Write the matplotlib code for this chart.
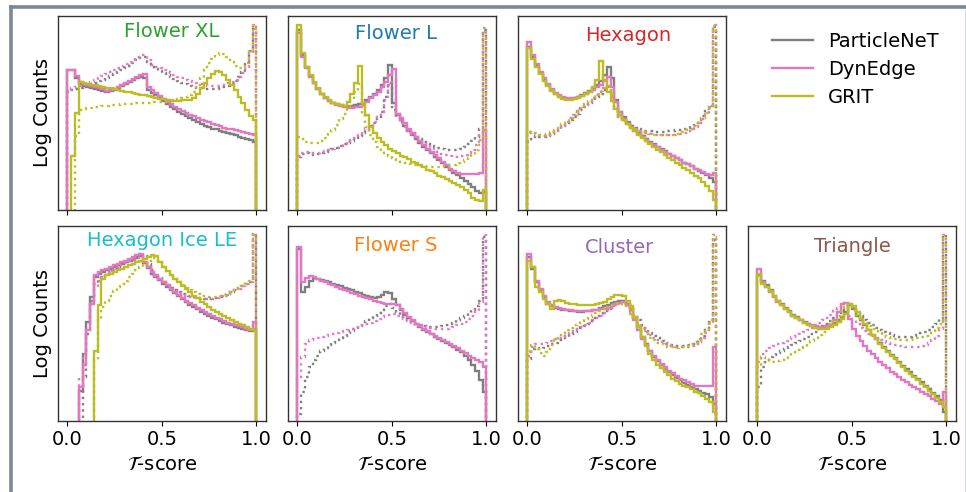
import numpy as np
import matplotlib
matplotlib.use("Agg")
import matplotlib.pyplot as plt
from matplotlib.lines import Line2D
from matplotlib.ticker import NullLocator

# ---------------- binning ----------------
edges = np.linspace(0.0, 1.0, 51)

# log-counts per bin (20 units per decade, 0 = empty bin)
# suffix _0 -> first class (solid), _1 -> second class (dotted)

# Flower XL
fxl_pn_0 = [72, 72, 68, 65, 64, 63.5, 63, 62.5, 62, 61.5,
            61, 61.5, 62, 63, 64, 65, 66, 67, 68, 68.5,
            68, 62, 60.5, 59, 57.5, 56, 54.5, 53, 52, 50.5,
            49.5, 48.5, 47.5, 46.5, 45.5, 44.5, 43.5, 43, 42, 41.5,
            40.5, 40, 39.5, 39, 38.5, 37.5, 37, 36.5, 36, 35]
fxl_de_0 = [72, 72, 69, 66, 65, 64.5, 64, 63.5, 63, 62.5,
            61.5, 62, 62.5, 63.5, 64.5, 65.5, 66.5, 67.5, 68.5, 69.5,
            70, 63.5, 62, 60.5, 58.7, 57, 55.7, 54.5, 53.2, 52,
            51, 50, 49, 48.2, 47.3, 46.5, 45.8, 45.1, 44.4, 43.7,
            43.2, 42.5, 42, 41.5, 41, 40.5, 40, 39.5, 39, 38.6]
fxl_gr_0 = [0, 28, 50, 66, 65.5, 65, 64.6, 64.2, 63.8, 63.4,
            63, 62.6, 62.2, 61.8, 61.4, 61, 60.6, 60.2, 59.8, 59.4,
            59, 58.6, 58.2, 57.8, 57.4, 57, 56.7, 56.5, 56.4, 56.4,
            56.5, 56.6, 56.8, 57.5, 60, 62.6, 65.2, 67.8, 70, 71.5,
            71.2, 69.5, 66.9, 64.3, 61.7, 58.3, 54.9, 51.5, 48.4, 46.3]
fxl_pn_1 = [61, 62, 62.5, 63, 63.5, 64, 64.8, 65.6, 66.4, 67.2,
            68, 69, 70, 71, 72, 73, 74, 75.5, 77, 78.5,
            79, 76, 73.5, 72.5, 71.5, 70.5, 69.5, 68.5, 67.5, 66.5,
            65.5, 64.7, 64, 63.4, 63, 62.6, 62.4, 62.3, 62.3, 62.5,
            62.8, 63.3, 64, 65, 66.5, 68.5, 71, 75, 82, 93]
fxl_de_1 = [62, 63, 63.5, 64, 64.5, 65, 66, 67, 68, 69,
            70, 71, 72, 73, 74, 75, 76, 77, 78.5, 80,
            80, 77.2, 74.6, 73.8, 72.9, 72, 71.2, 70.3, 69.5, 68.6,
            67.8, 66.9, 66.4, 65.7, 65.2, 64.7, 64.3, 64, 63.8, 63.8,
            63.8, 64.3, 65.2, 66, 66.9, 68.3, 70.3, 73.8, 80.6, 95.2]
fxl_gr_1 = [0, 0, 38, 51.5, 52, 52.3, 52.6, 52.9, 53.2, 53.5,
            53.7, 53.9, 54.1, 54.3, 54.5, 54.6, 54.7, 54.8, 54.9, 55,
            55.1, 55.2, 55.3, 55.4, 55.5, 55.7, 56, 56.3, 56.7, 57.1,
            57.5, 58.2, 59.2, 60.9, 64.3, 67.8, 72, 75.5, 78, 79.8,
            80.6, 80.1, 78.6, 76.3, 74.3, 72.9, 72.9, 75.5, 82.3, 95.2]

# Flower L
fl_pn_0 = [92.6, 79.8, 73.8, 69, 65.5, 62.1, 59.5, 57.8, 56.3, 55.2,
           54.4, 53.9, 53.5, 53.5, 53.5, 53.9, 54.4, 55.2, 56.6, 58,
           59.7, 61.7, 64.3, 67.8, 74.6, 54.9, 48.9, 46.3, 43.2, 40.8,
           38.6, 36.4, 34.3, 32.6, 30.9, 29.2, 27.4, 25.7, 24, 22.3,
           20.6, 19.2, 18, 16.6, 15.1, 13.4, 11.7, 9.9, 8.6, 9.4]
fl_de_0 = [90.9, 78.9, 72.9, 68.6, 65.2, 62.1, 59.5, 57.6, 56.1, 54.9,
           54, 53.5, 53.2, 52.8, 52.8, 53, 53.3, 54.2, 55.7, 57.5,
           59.2, 60.9, 63.5, 66, 69.5, 72.6, 49.7, 47.2, 44.6, 42,
           39.8, 37.7, 35.7, 33.4, 31.7, 30, 28.3, 26.6, 24.9, 23.2,
           21.4, 20.2, 19.2, 18.5, 18.5, 18.5, 18.5, 18.5, 19.2, 41.2]
fl_gr_0 = [95.2, 80.6, 73.8, 69.5, 66, 62.6, 60, 58.3, 56.6, 55.2,
           54.5, 54, 53.5, 55.7, 60, 65.2, 74.3, 54.9, 48.9, 42.9,
           39.5, 36.9, 35.2, 33.4, 31.7, 30.4, 29.2, 28.1, 27.1, 26.1,
           25, 24, 23, 22, 20.9, 19.9, 18.9, 17.8, 16.8, 16,
           15.1, 14.1, 12.9, 11.7, 10.3, 8.6, 6.5, 5.1, 4.6, 10.3]
fl_pn_1 = [27.4, 28.8, 29.2, 28.8, 28.6, 29, 29.5, 30, 30.7, 31.4,
           32.1, 32.9, 33.8, 34.8, 35.8, 37, 38.4, 39.8, 41.3, 43.1,
           44.9, 47.3, 50.6, 58.3, 65.2, 51.5, 48, 45.5, 43.2, 41.2,
           39.5, 37.7, 36.4, 35.2, 34.1, 33.1, 32.4, 31.9, 31.4, 31,
           30.9, 30.9, 31.2, 31.7, 32.6, 34, 35.7, 37.7, 42, 92.6]
fl_de_1 = [27.8, 29.5, 29.8, 29.5, 29.2, 29.5, 29.8, 30.4, 30.9, 31.6,
           32.2, 33.1, 34, 35, 36, 37.2, 38.6, 40, 41.5, 43.2,
           45.1, 47.7, 50.6, 56.6, 64.3, 66.9, 49.7, 45.5, 42.9, 40.8,
           39.1, 37.4, 36, 34.6, 33.3, 32.1, 30.9, 29.8, 29, 28.3,
           27.8, 27.4, 27.4, 27.8, 28.5, 29.5, 31.2, 33.4, 39.5, 93.5]
fl_gr_1 = [37.7, 36.4, 35.3, 34.6, 34.3, 34.6, 35.7, 37.2, 39.1, 41.2,
           43.7, 46.7, 49.7, 53.2, 56.9, 60.9, 64.8, 49.7, 42.9, 38.6,
           35.2, 32.6, 30.9, 29.2, 27.8, 26.6, 25.7, 24.9, 24.4, 23.8,
           23.3, 23, 22.6, 22.5, 22.3, 22.3, 22.3, 22.3, 22.5, 22.6,
           23, 23.3, 24, 24.7, 25.6, 26.6, 28.3, 30.9, 36, 91.8]

# Hexagon
hx_pn_0 = [84, 78.6, 74.1, 70.3, 66.9, 64.2, 61.7, 59.9, 58.5, 57.6,
           57.3, 57.3, 57.6, 58.3, 59.2, 60.2, 61.4, 62.8, 64.3, 66.4,
           69.5, 73.8, 67.8, 56.6, 50.6, 47.7, 45.5, 43.4, 41.5, 39.8,
           38.3, 36.7, 35.3, 34, 32.6, 31.4, 30.2, 29, 27.8, 26.6,
           25.6, 24.5, 23.5, 22.5, 21.4, 20.2, 19.2, 18, 16.3, 14.6]
hx_de_0 = [86.6, 79.8, 75.1, 71.2, 67.8, 64.8, 62.4, 60.4, 59, 58.1,
           57.6, 57.5, 57.6, 58.1, 58.8, 59.7, 60.7, 61.9, 63.1, 64.5,
           66.4, 68.3, 63.1, 55.7, 50.3, 47, 44.3, 42.4, 40.7, 39.1,
           37.6, 36.2, 34.8, 33.6, 32.4, 31.2, 30, 28.8, 27.6, 26.6,
           25.6, 24.5, 23.5, 22.5, 21.4, 20.4, 19.4, 18.7, 18.2, 18.9]
hx_gr_0 = [83.2, 78, 73.8, 70, 66.6, 63.8, 61.4, 59.5, 58, 57.1,
           56.8, 56.8, 57.1, 57.8, 58.7, 59.7, 60.9, 63.1, 66.9, 76.7,
           66.9, 61, 56, 52, 49, 46.5, 44.3, 42.3, 40.5, 38.8,
           37.2, 35.6, 34.1, 32.6, 31.1, 29.7, 28.3, 27, 25.7, 24.4,
           23.1, 21.8, 20.5, 19.2, 17.8, 16.3, 14.6, 12.6, 9.9, 5.1]
hx_pn_1 = [35.2, 37.7, 38.1, 37.7, 37.7, 38.3, 39.1, 40.3, 41.7, 43.2,
           44.8, 46.3, 48, 49.7, 51.5, 53.2, 54.9, 56.6, 58.3, 60,
           61.7, 63.1, 60, 53.2, 48.9, 46.3, 44.6, 43.2, 42.2, 41.5,
           41, 40.7, 40.5, 40.3, 40.3, 40.3, 40.3, 40.5, 40.7, 41,
           41.3, 41.9, 42.5, 43.4, 44.6, 46.3, 48.5, 51.1, 53.5, 94.3]
hx_de_1 = [38.6, 40.3, 39.5, 38.6, 38.3, 38.6, 39.5, 40.7, 42, 43.7,
           45.5, 47.2, 48.9, 50.6, 52.3, 54, 55.7, 57.5, 59.2, 60.9,
           62.6, 64.3, 58.3, 51.5, 48, 46, 44.3, 42.9, 41.7, 40.8,
           40.1, 39.6, 39.3, 38.9, 38.8, 38.6, 38.6, 38.6, 38.8, 38.9,
           39.3, 39.8, 40.7, 41.7, 42.9, 44.6, 46.8, 49.7, 53.2, 95.2]
hx_gr_1 = [40.3, 39.8, 39.1, 38.6, 38.6, 39.1, 40, 41.2, 42.5, 44.1,
           45.8, 47.5, 49.2, 50.9, 52.7, 54.4, 56.1, 57.8, 59.5, 61.2,
           62.8, 63.8, 59.2, 52.3, 48.4, 46, 44.1, 42.7, 41.5, 40.7,
           40, 39.5, 39.1, 38.8, 38.6, 38.6, 38.6, 38.8, 38.9, 39.3,
           39.6, 40.1, 41, 42, 43.2, 44.9, 47.2, 50.1, 53.5, 94.7]

# Hexagon Ice LE
hil_pn_0 = [0, 0, 0, 15.4, 34.3, 50.6, 63.5, 73.8, 75.5, 76.3,
            77.2, 78, 78.9, 79.8, 80.6, 81.5, 82.3, 83.2, 84, 84.9,
            80.8, 78.2, 75.5, 73.8, 72.1, 70.4, 68.7, 67, 65.4, 63.9,
            62.3, 60.9, 59.6, 58.4, 57.2, 56, 54.9, 53.9, 52.9, 52,
            51.2, 50.3, 49.6, 48.9, 48.3, 47.6, 47.1, 46.5, 46, 47.2]
hil_de_0 = [0, 0, 0, 17.2, 28.3, 46.3, 60, 74.6, 76.3, 77.2,
            78, 78.9, 79.8, 80.6, 81.5, 82.3, 83.2, 84, 84.9, 85.8,
            81.5, 78.9, 76.3, 74.6, 72.9, 71.2, 69.5, 67.8, 66.2, 64.7,
            63.1, 61.7, 60.4, 59.2, 58, 56.8, 55.7, 54.7, 53.7, 52.8,
            52, 51.1, 50.4, 49.7, 49.1, 48.4, 47.9, 47.3, 46.8, 50.6]
hil_gr_0 = [0, 0, 0, 0, 0, 0, 0, 36, 59.2, 72.9,
            74.6, 75.5, 76.3, 77.2, 78, 78.9, 79.8, 80.6, 81.5, 82.3,
            83.2, 84, 85.1, 84.4, 81.5, 78.9, 76.8, 74.8, 72.9, 71,
            69.3, 67.6, 65.9, 64.3, 62.8, 61.2, 59.9, 58.5, 57.1, 55.9,
            54.7, 53.7, 52.7, 51.6, 50.6, 49.7, 48.9, 48, 47.2, 46.3]
hil_pn_1 = [0, 0, 0, 0, 22.3, 44.6, 61.7, 70.3, 72.9, 74.3,
            75.5, 76.7, 77.9, 78.9, 79.9, 81, 82, 82.8, 83.7, 84.4,
            84.7, 80.6, 77.5, 75.1, 73.1, 71.2, 69.6, 68.3, 67.1, 66,
            65.2, 64.5, 63.8, 63.3, 62.9, 62.8, 62.6, 62.6, 62.8, 63.1,
            63.6, 64.3, 65.2, 66.2, 67.2, 68.3, 69.3, 70.3, 71.5, 96]
hil_de_1 = [0, 0, 0, 22.3, 34.3, 46.3, 60, 68.6, 72, 73.8,
            75.1, 76.3, 77.5, 78.7, 79.8, 80.8, 81.8, 82.8, 83.7, 84.4,
            81.5, 78.9, 76.3, 74.3, 72.4, 70.7, 69.3, 67.9, 66.7, 65.7,
            64.8, 64.2, 63.5, 63, 62.6, 62.4, 62.3, 62.3, 62.4, 62.8,
            63.3, 64, 64.8, 65.9, 66.9, 67.9, 69, 70, 71.2, 95.2]
hil_gr_1 = [0, 0, 0, 0, 0, 0, 0, 30.9, 51.5, 58.3,
            61.7, 64.3, 66.6, 68.6, 70.3, 72, 73.8, 75.5, 77.2, 78.9,
            80.6, 82.3, 83.7, 83.7, 81.5, 78.9, 76.7, 74.6, 72.7, 71,
            69.5, 68.1, 66.9, 65.9, 65, 64.3, 63.8, 63.5, 63.5, 63.6,
            64, 64.5, 65.2, 66, 67.1, 68.1, 69.1, 70.3, 72, 95.2]

# Flower S (no GRIT)
fs_pn_0 = [88.3, 66, 68.6, 72, 73.2, 72.9, 72.4, 71.7, 71, 70.3,
           69.6, 69, 68.3, 67.6, 66.9, 66.2, 65.5, 64.8, 64.2, 63.5,
           63, 63.5, 64.8, 66, 65.5, 62.6, 59.2, 56.6, 54.5, 52.8,
           51.1, 49.6, 48, 46.7, 45.5, 44.3, 43.1, 42, 41, 40,
           38.9, 37.7, 36.5, 35.2, 33.4, 31.2, 28.8, 25.7, 20.9, 14.6]
fs_de_0 = [89.5, 71.2, 73.4, 74.3, 73.8, 72.9, 72, 71.2, 70.3, 69.5,
           68.6, 67.8, 67.1, 66.4, 65.7, 65, 64.3, 63.6, 63, 62.3,
           61.6, 61.1, 60.5, 60, 59.7, 60, 59.2, 57.5, 55.2, 53.2,
           51.5, 49.9, 48.4, 47, 45.8, 44.6, 43.4, 42.4, 41.3, 40.3,
           39.3, 38.3, 37.2, 36, 34.8, 33.4, 32.2, 31.2, 30, 27.4]
fs_pn_1 = [3.4, 14.6, 22.3, 27.4, 30.9, 33.4, 35.5, 37.2, 38.6, 39.8,
           41.2, 42.5, 43.7, 44.9, 46.1, 47.3, 48.5, 49.9, 51.3, 52.7,
           54, 55.4, 56.9, 58.7, 60, 58, 55.7, 54, 52.7, 51.5,
           50.4, 49.6, 48.9, 48.4, 48, 47.9, 47.9, 48, 48.4, 48.9,
           49.6, 50.4, 51.5, 52.5, 53.7, 55.1, 56.6, 58.7, 61.7, 94.3]
fs_de_1 = [22.3, 32.6, 39.1, 41.2, 42, 42.5, 43.1, 43.6, 44.1, 44.6,
           45.1, 45.6, 46.1, 46.7, 47.2, 47.7, 48.2, 48.9, 49.6, 50.4,
           51.3, 52.1, 53, 53.9, 54.5, 54.9, 54, 53, 52, 51.1,
           50.3, 49.6, 48.9, 48.4, 47.9, 47.5, 47.3, 47.2, 47.2, 47.3,
           47.7, 48.2, 48.9, 49.7, 50.8, 52.1, 53.9, 56.3, 60.9, 95.2]

# Cluster
cl_pn_0 = [84, 78, 71.2, 66.9, 63.5, 60, 58.7, 58, 57.5, 56.9,
           56.6, 56.3, 56.1, 55.9, 55.9, 56.1, 56.3, 56.6, 57.1, 57.8,
           58.7, 59.5, 60.5, 61.2, 61.7, 61.4, 60, 57.5, 53.2, 48,
           42.9, 39.1, 35.7, 32.9, 30.5, 28.5, 26.6, 24.9, 23.3, 22,
           20.6, 19.4, 18.2, 17.2, 16.1, 15.1, 14.2, 13.4, 12, 8.6]
cl_de_0 = [85.8, 78.9, 72, 67.8, 64.3, 60.9, 59.2, 58.3, 57.8, 57.3,
           56.9, 56.6, 56.4, 56.3, 56.3, 56.3, 56.4, 56.6, 56.9, 57.3,
           57.6, 58.1, 59, 60, 60.7, 60.9, 59.2, 56.6, 51.5, 46.3,
           42, 38.6, 35.7, 33.3, 31.2, 29.2, 27.4, 25.7, 24.2, 22.8,
           21.6, 20.6, 19.6, 18.7, 18, 18, 18, 18, 18, 37.7]
cl_gr_0 = [82.3, 78.9, 68.6, 66, 62.6, 60, 57.5, 61.7, 62, 61.4,
           60.5, 60, 59.7, 59.3, 59.2, 59.2, 59.2, 59.3, 59.7, 60.4,
           61.2, 62.3, 63.5, 64.5, 64.8, 63.8, 61.7, 58.7, 53.2, 48,
           42.9, 38.1, 34.3, 31.2, 28.8, 26.8, 24.9, 23.2, 21.6, 20.2,
           19, 18, 17, 16, 14.9, 13.9, 12.7, 11.3, 9.4, 4.3]
cl_pn_1 = [31.7, 36.9, 37.4, 36.9, 37.2, 38.1, 39.1, 40.1, 41.2, 42.2,
           43.2, 44.3, 45.3, 46.3, 47.5, 48.7, 49.9, 51.1, 52.5, 53.9,
           55.2, 56.8, 58.3, 59.7, 60.9, 61.4, 60, 57.5, 54.5, 51.8,
           49.2, 47, 45.1, 43.6, 42.2, 41, 40, 39.1, 38.6, 38.3,
           38.1, 38.3, 38.6, 39.3, 40.3, 41.7, 43.6, 46.3, 50.6, 92.6]
cl_de_1 = [33.4, 37.7, 39.1, 39.1, 39.5, 40.1, 40.8, 41.7, 42.5, 43.4,
           44.3, 45.1, 46.1, 47.2, 48.2, 49.2, 50.3, 51.5, 52.7, 53.9,
           55.2, 56.6, 58, 59.2, 60.2, 60.5, 58.7, 55.7, 52.8, 50.1,
           47.7, 45.6, 43.9, 42.5, 41.3, 40.3, 39.5, 38.8, 38.3, 37.9,
           37.7, 37.7, 37.9, 38.4, 39.3, 40.5, 42.4, 45.1, 49.7, 95.2]
cl_gr_1 = [36, 38.6, 36.9, 34.6, 33.4, 35.2, 38.6, 41.2, 43.2, 44.9,
           46.3, 47.7, 48.9, 50.1, 51.3, 52.3, 53.3, 54.4, 55.4, 56.4,
           57.5, 58.5, 59.3, 60.2, 60.7, 60, 58, 54.9, 51.8, 48.9,
           46.3, 44.3, 42.5, 41.2, 40, 39.1, 38.4, 37.9, 37.6, 37.4,
           37.6, 37.9, 38.4, 39.3, 40.5, 42, 44.3, 47.2, 51.5, 94.3]

# Triangle
tr_pn_0 = [74.6, 72, 69.5, 66.9, 64.3, 61.7, 59.7, 57.8, 56.1, 54.5,
           53.2, 51.8, 50.6, 49.6, 48.7, 48, 47.7, 47.7, 48, 48.9,
           50.1, 51.5, 53.2, 55.7, 59.2, 57.5, 54, 51.5, 48.9, 46.3,
           44.1, 41.9, 39.8, 37.7, 35.7, 33.8, 31.9, 30, 28.1, 26.4,
           24.7, 23, 21.3, 19.6, 17.8, 16.1, 14.4, 12.5, 10.3, 4.3]
tr_de_0 = [78, 71.2, 68.6, 66, 63.5, 61.2, 59.2, 57.3, 55.6, 54,
           52.7, 51.5, 50.4, 49.6, 48.9, 48.4, 48, 48, 48.4, 49.2,
           51.5, 55.7, 59.7, 60.4, 52.3, 47.2, 43.7, 40.8, 38.3, 36,
           34, 32.1, 30.2, 28.5, 26.8, 25.2, 23.7, 22.3, 20.9, 19.6,
           18.4, 17.2, 16, 14.8, 13.7, 12.5, 11.3, 9.9, 8.6, 14.6]
tr_gr_0 = [75.5, 70.3, 68.6, 66.4, 63.8, 61.4, 59.2, 57.3, 55.6, 54,
           52.7, 51.5, 50.3, 49.2, 48.4, 47.7, 47.3, 47.2, 47.3, 48,
           49.2, 50.6, 52.3, 54.9, 59.7, 58.7, 55.7, 52.3, 49.4, 46.7,
           44.1, 41.7, 39.5, 37.4, 35.3, 33.3, 31.4, 29.5, 27.6, 25.7,
           24, 22.3, 20.6, 18.9, 17.2, 15.4, 13.7, 11.7, 9.4, 6.9]
tr_pn_1 = [17.2, 27.4, 30.9, 32.6, 33.8, 34.8, 35.8, 36.9, 37.9, 38.9,
           40, 41, 42, 43.2, 44.4, 45.6, 47, 48.4, 49.7, 51.3,
           52.8, 54.5, 56.3, 58, 59.7, 58, 55.7, 53.7, 51.8, 50.3,
           48.9, 47.7, 46.7, 45.6, 44.8, 44.1, 43.6, 43.2, 43.1, 43.1,
           43.2, 43.6, 44.1, 44.8, 45.6, 46.7, 48, 49.7, 52.3, 95.2]
tr_de_1 = [30, 34.3, 36, 37.4, 38.4, 39.3, 40.1, 41, 41.9, 42.7,
           43.6, 44.6, 45.6, 46.7, 47.7, 48.9, 50.1, 51.5, 52.8, 54.4,
           56.1, 58, 60, 60.4, 54, 51.5, 49.4, 47.5, 46, 44.6,
           43.4, 42.4, 41.5, 40.7, 40, 39.3, 38.8, 38.4, 38.1, 37.9,
           37.7, 37.7, 37.9, 38.3, 38.9, 40, 41.5, 43.7, 47.2, 95.2]
tr_gr_1 = [27.4, 32.6, 30.9, 30, 30, 30.5, 31.2, 32.1, 33.1, 34.1,
           35.3, 36.5, 37.9, 39.3, 40.8, 42.4, 43.9, 45.6, 47.5, 49.4,
           51.5, 53.7, 56.1, 58.3, 59.2, 56.9, 54.5, 52.3, 50.4, 48.7,
           47.2, 46, 44.8, 43.7, 42.9, 42.2, 41.7, 41.3, 41.2, 41.2,
           41.3, 41.7, 42.2, 42.9, 43.7, 44.8, 46.1, 47.7, 49.7, 94.3]

models = ["ParticleNeT", "DynEdge", "GRIT"]
model_colors = {"ParticleNeT": "#7f7f7f", "DynEdge": "#e377c2", "GRIT": "#bcbd22"}

# (title, title colour, grid slot, title anchor in axes coords, {model: (class 0, class 1)})
panels = [
    ("Flower XL", "tab:green", (0, 0), (0.548, 0.892),
     {"ParticleNeT": (fxl_pn_0, fxl_pn_1), "DynEdge": (fxl_de_0, fxl_de_1),
      "GRIT": (fxl_gr_0, fxl_gr_1)}),
    ("Flower L", "tab:blue", (0, 1), (0.52, 0.879),
     {"ParticleNeT": (fl_pn_0, fl_pn_1), "DynEdge": (fl_de_0, fl_de_1),
      "GRIT": (fl_gr_0, fl_gr_1)}),
    ("Hexagon", "tab:red", (0, 2), (0.53, 0.871),
     {"ParticleNeT": (hx_pn_0, hx_pn_1), "DynEdge": (hx_de_0, hx_de_1),
      "GRIT": (hx_gr_0, hx_gr_1)}),
    ("Hexagon Ice LE", "tab:cyan", (1, 0), (0.5, 0.896),
     {"ParticleNeT": (hil_pn_0, hil_pn_1), "DynEdge": (hil_de_0, hil_de_1),
      "GRIT": (hil_gr_0, hil_gr_1)}),
    ("Flower S", "tab:orange", (1, 1), (0.52, 0.871),
     {"ParticleNeT": (fs_pn_0, fs_pn_1), "DynEdge": (fs_de_0, fs_de_1)}),
    ("Cluster", "tab:purple", (1, 2), (0.49, 0.861),
     {"ParticleNeT": (cl_pn_0, cl_pn_1), "DynEdge": (cl_de_0, cl_de_1),
      "GRIT": (cl_gr_0, cl_gr_1)}),
    ("Triangle", "tab:brown", (1, 3), (0.5, 0.866),
     {"ParticleNeT": (tr_pn_0, tr_pn_1), "DynEdge": (tr_de_0, tr_de_1),
      "GRIT": (tr_gr_0, tr_gr_1)}),
]


def to_counts(logc):
    logc = np.asarray(logc, dtype=float)
    assert logc.size == edges.size - 1
    return np.where(logc > 0, 10 ** (logc / 20.0), 0.0)


plt.rcParams["font.size"] = 14
LW = 1.7

fig, axes = plt.subplots(2, 4, figsize=(9.66, 4.92), dpi=100)
fig.subplots_adjust(left=0.060, right=0.9896, bottom=0.1453, top=0.968,
                    wspace=0.1058, hspace=0.082)

for title, tcol, (r, c), (tx, ty), curves in panels:
    ax = axes[r, c]
    for m in models:
        if m not in curves:
            continue
        a, b = curves[m]
        ax.stairs(to_counts(a), edges, baseline=0, color=model_colors[m],
                  lw=LW, ls="-")
        ax.stairs(to_counts(b), edges, baseline=0, color=model_colors[m],
                  lw=LW, ls=":")
    ax.set_yscale("log")
    ax.set_ylim(1, 1e5)
    ax.set_xlim(-0.05, 1.05)
    ax.yaxis.set_major_locator(NullLocator())
    ax.yaxis.set_minor_locator(NullLocator())
    ax.set_xticks([0.0, 0.5, 1.0])
    if r == 1:
        ax.set_xticklabels(["0.0", "0.5", "1.0"])
        ax.set_xlabel(r"$\mathcal{T}$-score")
    else:
        ax.set_xticklabels([])
    if c == 0:
        ax.set_ylabel("Log Counts")
    ax.text(tx, ty, title, transform=ax.transAxes, ha="center",
            va="baseline", color=tcol, fontsize=14)
    for sp in ax.spines.values():
        sp.set_color("#333333")
        sp.set_linewidth(1.0)

# empty slot holds the legend
axes[0, 3].axis("off")
handles = [Line2D([], [], color=model_colors[m], lw=LW) for m in models]
fig.legend(handles, models, loc="upper left", bbox_to_anchor=(0.7992, 0.935),
           frameon=False, borderpad=0, borderaxespad=0, handlelength=2.1,
           handletextpad=0.78, labelspacing=0.47, fontsize=14)

# page border
fig.add_artist(Line2D([0.0116, 0.0116], [0.0, 0.989], transform=fig.transFigure,
                      color="#7b8898", lw=2.6, solid_capstyle="butt"))
fig.add_artist(Line2D([0.0098, 1.0], [0.9854, 0.9854], transform=fig.transFigure,
                      color="#7b8898", lw=2.6, solid_capstyle="butt"))
fig.add_artist(Line2D([0.9985, 0.9985], [0.0, 0.98], transform=fig.transFigure,
                      color="#d5dbe2", lw=0.8))

fig.savefig("out.png", dpi=100)
